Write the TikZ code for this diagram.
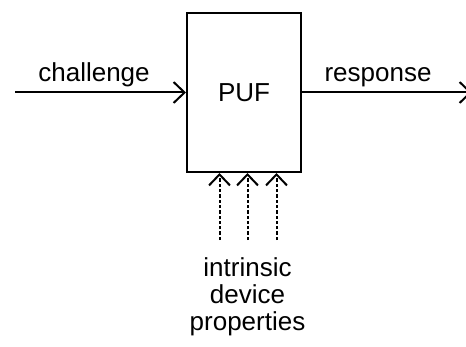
\documentclass[tikz,border=0pt]{standalone}
\usepackage{fontspec}
\setmainfont{Liberation Sans}
\usetikzlibrary{arrows.meta}
\begin{document}
\begin{tikzpicture}[x=1pt,y=1pt,
  wire/.style={line width=2pt},
  openhead/.style={-{Straight Barb[length=11pt,width=21pt,line width=2pt]}},
  lbl/.style={font=\fontsize{26}{26.7}\selectfont, inner sep=0pt},
  influence/.style={wire, dash pattern=on 3.3pt off 2pt, openhead}]
  \useasboundingbox (0,0) rectangle (466,346);
  % PUF block
  \node[draw, line width=2pt, minimum width=114pt, minimum height=159pt,
        inner sep=0pt, font=\fontsize{26}{30}\selectfont] (puf) at (244,253.5) {PUF};
  % challenge input
  \coordinate (cin) at (15,253.5);
  \draw[wire, openhead] (cin) -- (puf.west);
  \node[lbl, anchor=base] (chal) at (94,264) {challenge};
  % response output
  \coordinate (rout) at (472,253.5);
  \draw[wire, openhead] (puf.east) -- (rout);
  \node[lbl, anchor=base] (resp) at (378,264.3) {response};
  % intrinsic device properties
  \foreach \i/\x in {a/219.5,b/247.5,c/276.5}{
    \coordinate (src\i) at (\x,106);
    \draw[influence] (src\i) -- (src\i |- puf.south);
  }
  \node[lbl, anchor=base] (p1) at (247.5,69.3) {intrinsic};
  \node[lbl, anchor=base] (p2) at (247.5,42.7) {device};
  \node[lbl, anchor=base] (p3) at (247.5,16) {properties};
\end{tikzpicture}
\end{document}
